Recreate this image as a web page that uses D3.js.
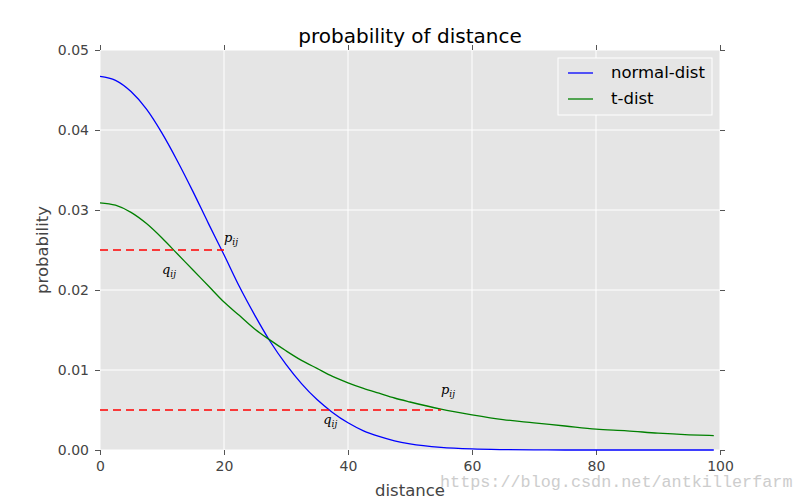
<!DOCTYPE html>
<html><head><meta charset="utf-8">
<script src="https://cdn.jsdelivr.net/npm/d3@7"></script>
<style>body{margin:0;background:#fff;} text{font-family:"DejaVu Sans",sans-serif;}</style>
</head><body>
<svg id="c" width="800" height="500"></svg>
<script>
const xPts = [0,2.5,5,7.5,10,12.5,15,17.5,20,22.5,25,27.5,30,32.5,35,37.5,40,42.5,45,47.5,50,55,60,65,70,75,80,85,90,95,99];
const normalVals = [0.0467,0.0462,0.0448,0.0426,0.0396,0.0361,0.0323,0.0283,0.0244,0.0204,0.0168,0.0135,0.0107,0.0083,0.0063,0.0047,0.0034,0.0024,0.0017,0.00115,0.00077,0.00033,0.00013,0.00005,0.00002,0,0,0,0,0,0];
const tVals = [0.0309,0.0306,0.0297,0.0283,0.0265,0.0245,0.0225,0.0205,0.0185,0.0168,0.0151,0.0137,0.0124,0.0112,0.0102,0.0092,0.0084,0.0077,0.0071,0.0065,0.0060,0.0051,0.0044,0.0038,0.0034,0.0030,0.0026,0.0024,0.0021,0.0019,0.0018];
const xTicks = [0,20,40,60,80,100];
const yTicks = [0,0.01,0.02,0.03,0.04,0.05];
const dashLines = [{y:0.025,x0:0,x1:20},{y:0.005,x0:0,x1:55}];
const notes = [{t:"p",x:20,y:0.026},{t:"q",x:10,y:0.022},{t:"p",x:55,y:0.007},{t:"q",x:36,y:0.0033}];
const seriesNames = ["normal-dist","t-dist"];
const seriesColors = ["#0000ff","#008000"];

const L=100,R=720,T=50,B=450;
const svg=d3.select("#c");
const x=d3.scaleLinear().domain([0,100]).range([L,R]);
const y=d3.scaleLinear().domain([0,0.05]).range([B,T]);

svg.append("rect").attr("x",L).attr("y",T).attr("width",R-L).attr("height",B-T).attr("fill","#e5e5e5");
const g=svg.append("g");
xTicks.forEach(v=>g.append("line").attr("x1",x(v)).attr("x2",x(v)).attr("y1",T).attr("y2",B).attr("stroke","#fff").attr("stroke-width",1));
yTicks.forEach(v=>g.append("line").attr("x1",L).attr("x2",R).attr("y1",y(v)).attr("y2",y(v)).attr("stroke","#fff").attr("stroke-width",1));

const tc="#555";
const ax=svg.append("g").attr("transform",`translate(0,${B})`).call(d3.axisBottom(x).tickValues(xTicks).tickFormat(d3.format("d")).tickSize(5).tickPadding(6));
const ay=svg.append("g").attr("transform",`translate(${L},0)`).call(d3.axisLeft(y).tickValues(yTicks).tickFormat(d3.format(".2f")).tickSize(5).tickPadding(6));
const axT=svg.append("g").attr("transform",`translate(0,${T})`).call(d3.axisTop(x).tickValues(xTicks).tickFormat("").tickSize(5));
const ayR=svg.append("g").attr("transform",`translate(${R},0)`).call(d3.axisRight(y).tickValues(yTicks).tickFormat("").tickSize(5));
[ax,ay,axT,ayR].forEach(a=>{a.select(".domain").remove();a.selectAll("line").attr("stroke",tc);a.selectAll("text").attr("fill","#444").style("font-size","14px").style("font-family","DejaVu Sans");});

const line=d3.line().x((d,i)=>x(xPts[i])).y(d=>y(d)).curve(d3.curveMonotoneX);
[normalVals,tVals].forEach((vals,k)=>{
  svg.append("path").attr("d",line(vals)).attr("fill","none").attr("stroke",seriesColors[k]).attr("stroke-width",1.3);
});
dashLines.forEach(d=>svg.append("line").attr("x1",x(d.x0)).attr("x2",x(d.x1)).attr("y1",y(d.y)).attr("y2",y(d.y)).attr("stroke","#ff0000").attr("stroke-width",1.4).attr("stroke-dasharray","8,5"));
notes.forEach(n=>{
  const t=svg.append("text").attr("x",x(n.x)).attr("y",y(n.y)).style("font-family","DejaVu Serif").style("font-style","italic").style("font-size","13px").attr("fill","#000");
  t.append("tspan").text(n.t);
  t.append("tspan").text("ij").attr("dy",3).style("font-size","9px");
});

const lg=svg.append("g");
lg.append("rect").attr("x",558).attr("y",58).attr("width",154).attr("height",57).attr("fill","#e5e5e5").attr("stroke","#fff").attr("stroke-width",1);
seriesNames.forEach((s,i)=>{
  const yy=73+i*26;
  lg.append("line").attr("x1",568).attr("x2",593).attr("y1",yy).attr("y2",yy).attr("stroke",seriesColors[i]).attr("stroke-width",1.3);
  lg.append("text").attr("x",611).attr("y",yy+5).text(s).style("font-size","16.5px").attr("fill","#000");
});

svg.append("text").attr("x",410).attr("y",43).attr("text-anchor","middle").text("probability of distance").style("font-size","20px").attr("fill","#000");
svg.append("text").attr("x",410).attr("y",496).attr("text-anchor","middle").text("distance").style("font-size","16.5px").attr("fill","#444");
svg.append("text").attr("transform","translate(48,250) rotate(-90)").attr("text-anchor","middle").text("probability").style("font-size","16.5px").attr("fill","#444");
svg.append("text").attr("x",440).attr("y",487).text("https://blog.csdn.net/antkillerfarm").style("font-family","Liberation Mono").style("font-size","16.8px").attr("fill","#c8c8c8").attr("opacity",0.9);
</script>
</body></html>
